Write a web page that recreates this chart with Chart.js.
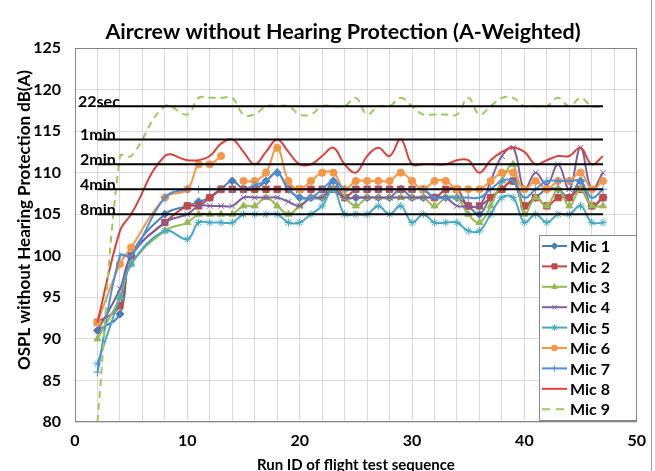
<!DOCTYPE html>
<html>
<head>
<meta charset="utf-8">
<script src="https://cdn.jsdelivr.net/npm/chart.js@4.4.1/dist/chart.umd.min.js"></script>
<style>
  html, body { margin: 0; padding: 0; background: #fff; }
  #wrap { width: 655px; height: 471px; position: relative; }
</style>
</head>
<body>
<div id="wrap"><canvas id="chart" width="655" height="471"></canvas></div>
<script>
// run ids (x) and OSPL values dB(A), one array per mic
const runIds = [2,4,5,8,10,11,12,13,14,15,16,17,18,19,20,21,22,23,24,25,26,27,28,29,30,31,32,33,34,35,36,37,38,39,40,41,42,43,44,45,46,47];

const mic1 = [91,93,100,105,106,106.5,107,108,109,108,108,109,110,108,107,107,107,109,107,107,107,107,107,108,107,107,107,107,107,106,105,107,108,109,106,107,108,108,107,109,106,107];
const mic2 = [92,94,100,104,106,106,107,108,108,108,108,108,108,108,108,108,108,108,107,108,108,108,108,108,108,108,107,108,108,106,106,107,108,109,106,107,106,107,107,108,106,107];
const mic3 = [90,95,99,103,104,105,105,105,105,106,106,107,106,105,106,107,107,108,107,106,107,107,107,107,107,107,106,107,107,105,104,106,109,111,105,107,106,108,106,108,106,106];
const mic4 = [91,96,100,104,105,106,106,106,106,107,107,107,107,106.5,106,107,107,108,107,107,107,107,107,107,107,107,107,107,106,106,106,109,112,113,108,110,108.5,111,108,113,108,110];
const mic5 = [87,95,99,103,102,104,104,104,104,105,105,105,105,104,104,105,106,108,105,105,105,106,105,106,104,105,104,104,104,103,103,105,107,107,104,105,104,105,105,106,104,104];
const mic6 = [92,99,101,107,108,111,111,112,null,109,109,110,113,109,108,109,110,110,108,109,109,109,109,110,109,108,109,109,108,108,108,109,110,110,108,109,108,109,109,110,108,109];
const mic7 = [86,100,100,107,108,108,108,108,108,108,108.5,109,110,108,107,107,108,109,108,108,108,108,108,108,108,108,107,107,107,107,107,108,109,109,107,108,109,109,109,109,107,108];
const mic8 = [92,103,105,112,111.5,111.5,112,113.5,114,112.5,111,112.5,114,112.5,111,111,112,113,111,110,112,113,112,114,111,111,111,111,111.5,111.5,110,111.5,112.5,113,112.5,111,111.5,112,112,113,111,112];
const mic9 = [80,112,112,118,117,119,119,119,119,117,117,118,118,118,117,117,118,118,118,119,117,118,118,119,118,117,117,117,117,119,117,118,119,119,118,118,118,119,118,119,118,118];

const micNames = ['Mic 1','Mic 2','Mic 3','Mic 4','Mic 5','Mic 6','Mic 7','Mic 8','Mic 9'];
const micValues = [mic1, mic2, mic3, mic4, mic5, mic6, mic7, mic8, mic9];

// exposure limit lines
const limitNames = ['22sec','1min','2min','4min','8min'];
const limitLevels = [118, 114, 111, 108, 105];
const limitRuns = [2, 47];

const yTicks = [80, 125, 5];   // min, max, step
const xTicks = [0, 50, 2];

const micStyles = [
  { color: '#4A7EBB', point: 'rectRot',  r: 4 },
  { color: '#BE4B48', point: 'rect',     r: 4.5 },
  { color: '#98B954', point: 'triangle', r: 4 },
  { color: '#7D60A0', point: 'crossRot', r: 4 },
  { color: '#46AAC5', point: 'star',     r: 4 },
  { color: '#F79646', point: 'circle',   r: 3.6 },
  { color: '#4F8FD8', point: 'cross',    r: 4 },
  { color: '#D8433E', point: false,      r: 0 },
  { color: '#9BCB5C', point: false,      r: 0, dash: [7, 5] }
];

const FONT = 'Lato, "Open Sans", sans-serif';

const datasets = micValues.map((vals, i) => {
  const s = micStyles[i];
  return {
    label: micNames[i],
    data: runIds.map((x, j) => ({ x: x, y: vals[j] })),
    borderColor: s.color,
    backgroundColor: s.color,
    borderWidth: 2,
    borderDash: s.dash || [],
    pointStyle: s.point,
    pointRadius: s.r,
    pointBorderWidth: 1,
    tension: 0.4,
    spanGaps: false,
    order: 20 - i
  };
});

limitLevels.forEach((lvl, i) => {
  datasets.push({
    label: limitNames[i],
    data: limitRuns.map(x => ({ x: x, y: lvl })),
    borderColor: '#000',
    borderWidth: 2,
    pointRadius: 0,
    tension: 0,
    order: 0
  });
});

const decorations = {
  id: 'decorations',
  beforeDraw(chart) {
    const ctx = chart.ctx;
    ctx.save();
    ctx.fillStyle = '#fff';
    ctx.fillRect(0, 0, chart.width, chart.height);
    ctx.restore();
  },
  afterDatasetsDraw(chart) {
    const { ctx, chartArea: a, scales: { y } } = chart;
    ctx.save();
    // limit labels
    ctx.fillStyle = '#000';
    ctx.font = 'bold 16px ' + FONT;
    ctx.textBaseline = 'alphabetic';
    ctx.textAlign = 'left';
    limitNames.forEach((name, i) => {
      ctx.fillText(name, name === '22sec' ? 78 : 80, y.getPixelForValue(limitLevels[i]) + 0.5);
    });
    // plot border
    ctx.strokeStyle = '#868686';
    ctx.lineWidth = 1;
    ctx.strokeRect(Math.round(a.left) + 0.5, Math.round(a.top) + 0.5,
      Math.round(a.right - a.left) - 1, Math.round(a.bottom - a.top) - 1);
    ctx.restore();
  },
  afterDraw(chart) {
    const { ctx, chartArea: a } = chart;
    ctx.save();
    // title
    ctx.fillStyle = '#000';
    ctx.textAlign = 'center';
    ctx.textBaseline = 'middle';
    ctx.font = 'bold 21.5px ' + FONT;
    ctx.fillText('Aircrew without Hearing Protection (A-Weighted)', 343, 32);
    // x title
    ctx.font = 'bold 15px ' + FONT;
    ctx.fillText('Run ID of flight test sequence', (a.left + a.right) / 2, 465);
    // y title
    ctx.save();
    ctx.font = 'bold 17px ' + FONT;
    ctx.translate(25, 220);
    ctx.rotate(-Math.PI / 2);
    ctx.fillText('OSPL without Hearing Protection dB(A)', 0, 0);
    ctx.restore();

    // legend
    const lx = 539.5, ly = 235.5, lw = 97, lh = 185;
    ctx.fillStyle = '#fff';
    ctx.fillRect(lx, ly, lw, lh);
    ctx.strokeStyle = '#868686';
    ctx.lineWidth = 1;
    ctx.strokeRect(lx, ly, lw, lh);
    ctx.font = 'bold 16px ' + FONT;
    ctx.textAlign = 'left';
    ctx.textBaseline = 'middle';
    micNames.forEach((name, i) => {
      const s = micStyles[i];
      const yy = 246 + i * 20.4;
      ctx.strokeStyle = s.color;
      ctx.fillStyle = s.color;
      ctx.lineWidth = 2;
      ctx.setLineDash(s.dash ? [8, 6] : []);
      ctx.beginPath();
      ctx.moveTo(542, yy);
      ctx.lineTo(567, yy);
      ctx.stroke();
      ctx.setLineDash([]);
      if (s.point) {
        ctx.lineWidth = 1;
        Chart.helpers.drawPoint(ctx, { pointStyle: s.point, radius: s.r * 0.8, borderWidth: 1, rotation: 0 }, 554.5, yy);
      }
      ctx.fillStyle = '#000';
      ctx.fillText(name, 570, yy + 1);
    });

    // outer frame edge
    ctx.strokeStyle = '#9a9a9a';
    ctx.lineWidth = 1;
    ctx.beginPath();
    ctx.moveTo(651.5, 0);
    ctx.lineTo(651.5, chart.height);
    ctx.stroke();
    ctx.restore();
  }
};

new Chart(document.getElementById('chart').getContext('2d'), {
  type: 'line',
  data: { datasets: datasets },
  options: {
    responsive: false,
    animation: false,
    layout: { padding: { top: 48, right: 17, left: 0, bottom: 0 } },
    plugins: {
      legend: { display: false },
      title: { display: false },
      tooltip: { enabled: false }
    },
    scales: {
      x: {
        type: 'linear',
        min: xTicks[0],
        max: xTicks[1],
        afterFit(scale) { scale.height = 49; },
        grid: { color: '#D9D9D9', lineWidth: 1, drawTicks: false },
        border: { display: false },
        ticks: {
          stepSize: xTicks[2],
          autoSkip: false,
          maxRotation: 0,
          padding: 9,
          color: '#000',
          font: { family: FONT, size: 16, weight: 'bold' },
          callback: v => (v % 10 === 0 ? String(v) : '')
        }
      },
      y: {
        min: yTicks[0],
        max: yTicks[1],
        afterFit(scale) { scale.width = 75; },
        grid: { color: '#D9D9D9', lineWidth: 1, drawTicks: false },
        border: { display: false },
        ticks: {
          stepSize: yTicks[2],
          padding: 14,
          color: '#000',
          font: { family: FONT, size: 16, weight: 'bold' }
        }
      }
    }
  },
  plugins: [decorations]
});
</script>
</body>
</html>
